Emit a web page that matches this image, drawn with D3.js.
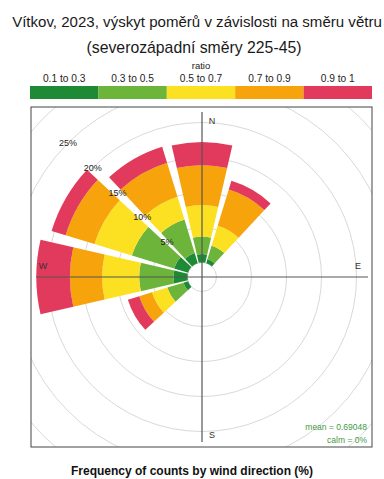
<!DOCTYPE html>
<html>
<head>
<meta charset="utf-8">
<script src="https://cdn.jsdelivr.net/npm/d3@7"></script>
<style>
  html, body { margin: 0; padding: 0; background: #fff; }
  svg { display: block; font-family: "Liberation Sans", Arial, sans-serif; }
</style>
</head>
<body>
<svg id="chart" width="384" height="479"></svg>
<script>
// Wind sectors (centre bearing, degrees) for the north-western directions 225–45
const directions = [240, 270, 300, 330, 0, 30];

// Ratio classes and their colours
const ratioBins = ["0.1 to 0.3", "0.3 to 0.5", "0.5 to 0.7", "0.7 to 0.9", "0.9 to 1"];
const binColours = ["#1f8a35", "#6db43a", "#fbe122", "#f6a30c", "#e23a5c"];

// Frequency of counts (%) per sector, one array per ratio class
const freqBin1 = [0.7, 2.0, 2.1, 1.5, 1.2, 0.6];
const freqBin2 = [2.4, 4.9, 6.3, 5.0, 2.5, 2.0];
const freqBin3 = [2.3, 5.3, 5.6, 3.4, 4.5, 3.0];
const freqBin4 = [1.9, 4.6, 4.3, 5.1, 5.7, 5.4];
const freqBin5 = [1.7, 4.8, 2.1, 2.4, 3.3, 1.3];

// Radial grid levels (%) and compass labels
const gridLevels = [5, 10, 15, 20, 25, 30];
const gridLabels = ["5%", "10%", "15%", "20%", "25%"];
const compass = ["N", "E", "S", "W"];

const meanRatio = "0.69048";
const calmPct = "0%";

const titleLines = ["Vítkov, 2023, výskyt poměrů v závislosti na směru větru",
                    "(severozápadní směry 225-45)"];
const legendTitle = "ratio";
const xCaption = "Frequency of counts by wind direction (%)";

const svg = d3.select("#chart");

// ---- title: each line sized to its span ----
function fittedText(str, x, y, width, size) {
  const t = svg.append("text").attr("x", x).attr("y", y).attr("text-anchor", "middle")
    .attr("font-size", size).attr("fill", "#1a1a1a").text(str);
  const w = t.node().getComputedTextLength();
  t.attr("font-size", (size * width / w).toFixed(2));
  return t;
}
fittedText(titleLines[0], 197, 27, 370, 16);
fittedText(titleLines[1], 194, 53, 215, 16);

// ---- legend ----
const legendX = d3.scaleBand().domain(ratioBins).range([30, 372]).paddingInner(0);
svg.append("text").attr("x", 201).attr("y", 69).attr("text-anchor", "middle")
  .attr("font-size", 9.5).attr("fill", "#222").text(legendTitle);
const lg = svg.append("g");
lg.selectAll("rect").data(ratioBins).join("rect")
  .attr("x", d => legendX(d)).attr("y", 86)
  .attr("width", legendX.bandwidth()).attr("height", 13)
  .attr("fill", (d, i) => binColours[i]);
lg.selectAll("text").data(ratioBins).join("text")
  .attr("x", d => legendX(d) + legendX.bandwidth() / 2).attr("y", 82)
  .attr("text-anchor", "middle").attr("font-size", 10.2).attr("fill", "#222")
  .text(d => d);

// ---- plot panel ----
const box = { x0: 31, y0: 107, x1: 372, y1: 447 };
const cx = 202, cy = 277;

svg.append("defs").append("clipPath").attr("id", "panel")
  .append("rect").attr("x", box.x0).attr("y", box.y0)
  .attr("width", box.x1 - box.x0).attr("height", box.y1 - box.y0);

const panel = svg.append("g").attr("clip-path", "url(#panel)");
const g = panel.append("g").attr("transform", `translate(${cx},${cy})`);

// radial scale: frequency (%) -> radius, with an inner offset hole
const r = d3.scaleLinear().domain([0, 30]).range([14.5, 224.5]);

// grid circles
g.selectAll("circle.grid").data([0].concat(gridLevels)).join("circle")
  .attr("class", "grid").attr("r", d => r(d))
  .attr("fill", "none").attr("stroke", "#d9d9d9").attr("stroke-width", 1);

// stacked sectors
const series = [freqBin1, freqBin2, freqBin3, freqBin4, freqBin5];
const halfWidth = 13; // degrees each side of the sector centre
const arc = d3.arc();
const toRad = d => d * Math.PI / 180;
directions.forEach((dir, j) => {
  let cum = 0;
  series.forEach((vals, i) => {
    const inner = cum;
    cum += vals[j];
    g.append("path")
      .attr("d", arc({
        innerRadius: r(inner), outerRadius: r(cum),
        startAngle: toRad(dir - halfWidth), endAngle: toRad(dir + halfWidth)
      }))
      .attr("fill", binColours[i]);
  });
});

// compass axes
g.append("line").attr("x1", -166).attr("x2", 166).attr("y1", 0).attr("y2", 0)
  .attr("stroke", "#555").attr("stroke-width", 1.2);
g.append("line").attr("x1", 0).attr("x2", 0).attr("y1", -165).attr("y2", 165)
  .attr("stroke", "#555").attr("stroke-width", 1.2);

const compassPos = { N: [10, -156], E: [156, -11], S: [10, 158], W: [-159, -11] };
g.selectAll("text.compass").data(compass).join("text")
  .attr("class", "compass")
  .attr("x", d => compassPos[d][0]).attr("y", d => compassPos[d][1])
  .attr("text-anchor", "middle").attr("dominant-baseline", "central")
  .attr("font-size", 9).attr("fill", "#333").text(d => d);

// grid labels along the north-west diagonal
g.selectAll("text.glab").data(gridLabels).join("text")
  .attr("class", "glab")
  .attr("x", d => r(parseFloat(d)) * Math.sin(toRad(315)))
  .attr("y", d => -r(parseFloat(d)) * Math.cos(toRad(315)))
  .attr("text-anchor", "middle").attr("dominant-baseline", "central")
  .attr("font-size", 9).attr("fill", "#222").text(d => d);

// panel border
svg.append("rect").attr("x", box.x0).attr("y", box.y0)
  .attr("width", box.x1 - box.x0).attr("height", box.y1 - box.y0)
  .attr("fill", "none").attr("stroke", "#444").attr("stroke-width", 1);

// statistics
svg.append("text").attr("x", 367).attr("y", 430).attr("text-anchor", "end")
  .attr("font-size", 8.5).attr("fill", "#3f9a3f").text("mean = " + meanRatio);
svg.append("text").attr("x", 367).attr("y", 443).attr("text-anchor", "end")
  .attr("font-size", 8.5).attr("fill", "#3f9a3f").text("calm = " + calmPct);

// axis caption
svg.append("text").attr("x", 192).attr("y", 475).attr("text-anchor", "middle")
  .attr("font-size", 12).attr("font-weight", "bold").attr("fill", "#111").text(xCaption);
</script>
</body>
</html>
